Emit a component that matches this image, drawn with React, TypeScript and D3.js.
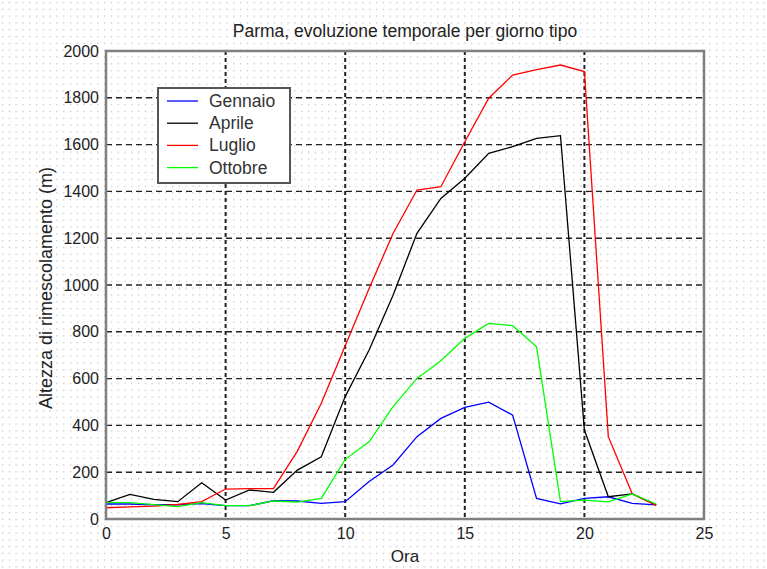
import React, { useEffect, useRef } from "react";
import * as d3 from "d3";

// hours of the typical day
const hours = [0, 1, 2, 3, 4, 5, 6, 7, 8, 9, 10, 11, 12, 13, 14, 15, 16, 17, 18, 19, 20, 21, 22, 23];

// mixing height (m)
const gennaio = [64, 64, 61, 61, 66, 57, 57, 78, 77, 67, 74, 160, 231, 352, 430, 477, 499, 444, 88, 65, 88, 95, 67, 60];
const aprile = [70, 105, 84, 74, 155, 81, 124, 114, 209, 266, 523, 722, 956, 1221, 1370, 1456, 1563, 1591, 1627, 1638, 380, 95, 107, 60];
const luglio = [48, 52, 55, 62, 74, 128, 130, 130, 290, 495, 740, 985, 1220, 1406, 1420, 1612, 1798, 1897, 1920, 1940, 1912, 352, 108, 58];
const ottobre = [71, 70, 61, 53, 70, 57, 57, 77, 72, 88, 255, 330, 480, 601, 676, 772, 836, 826, 736, 74, 81, 73, 107, 64];

const seriesNames = ["Gennaio", "Aprile", "Luglio", "Ottobre"];
const seriesColors = ["#0000ff", "#000000", "#ff0000", "#00ff00"];

const xTicks = [0, 5, 10, 15, 20, 25];
const yTicks = [0, 200, 400, 600, 800, 1000, 1200, 1400, 1600, 1800, 2000];

const font = "'Liberation Sans', Arial, sans-serif";

export default function App() {
  const ref = useRef<SVGSVGElement>(null);

  useEffect(() => {
    document.body.style.margin = "0";
    const width = 767;
    const height = 569;
    const left = 106, right = 704, top = 51, bottom = 519;

    const svg = d3.select(ref.current);
    svg.selectAll("*").remove();

    // dotted page background
    const defs = svg.append("defs");
    const pat = defs.append("pattern")
      .attr("id", "dots")
      .attr("patternUnits", "userSpaceOnUse")
      .attr("width", 6.8)
      .attr("height", 6.8);
    pat.append("rect").attr("x", 2).attr("y", 2).attr("width", 1.2).attr("height", 1.2).attr("fill", "#b8b8b8");

    svg.append("rect").attr("width", width).attr("height", height).attr("fill", "#fff");
    svg.append("rect").attr("width", width).attr("height", height).attr("fill", "url(#dots)");

    const x = d3.scaleLinear().domain([0, 25]).range([left, right]);
    const y = d3.scaleLinear().domain([0, 2000]).range([bottom, top]);

    /* grid */
    const grid = svg.append("g");
    grid.selectAll("line.h")
      .data(yTicks.slice(1, -1))
      .enter().append("line")
      .attr("x1", left).attr("x2", right)
      .attr("y1", d => y(d)).attr("y2", d => y(d))
      .attr("stroke", "#222").attr("stroke-width", 1.4)
      .attr("stroke-dasharray", "6,4");
    grid.selectAll("line.v")
      .data(xTicks.slice(1, -1))
      .enter().append("line")
      .attr("x1", d => x(d)).attr("x2", d => x(d))
      .attr("y1", top).attr("y2", bottom)
      .attr("stroke", "#222").attr("stroke-width", 2)
      .attr("stroke-dasharray", "4,3");

    /* lines */
    const allSeries = [gennaio, aprile, luglio, ottobre];
    const line = d3.line<number>()
      .x((d, i) => x(hours[i]))
      .y(d => y(d));

    svg.append("g")
      .selectAll("path")
      .data(allSeries)
      .enter().append("path")
      .attr("d", d => line(d))
      .attr("fill", "none")
      .attr("stroke", (d, i) => seriesColors[i])
      .attr("stroke-width", 1.3);

    /* frame */
    svg.append("rect")
      .attr("x", left).attr("y", top)
      .attr("width", right - left).attr("height", bottom - top)
      .attr("fill", "none")
      .attr("stroke", "#808080")
      .attr("stroke-width", 2.5);

    /* axes */
    const xAxis = svg.append("g")
      .attr("transform", `translate(0, ${bottom})`)
      .call(d3.axisBottom(x).tickValues(xTicks).tickFormat(d3.format("d")).tickSize(0).tickPadding(9));
    const yAxis = svg.append("g")
      .attr("transform", `translate(${left}, 0)`)
      .call(d3.axisLeft(y).tickValues(yTicks).tickFormat(d3.format("d")).tickSize(0).tickPadding(7));
    [xAxis, yAxis].forEach(a => {
      a.select(".domain").remove();
      a.selectAll("text")
        .attr("font-family", font)
        .attr("font-size", 16)
        .attr("fill", "#222");
    });

    /* title and labels */
    svg.append("text")
      .attr("x", (left + right) / 2).attr("y", 37)
      .attr("text-anchor", "middle")
      .attr("font-family", font).attr("font-size", 17.5)
      .attr("fill", "#222")
      .text("Parma, evoluzione temporale per giorno tipo");

    svg.append("text")
      .attr("x", (left + right) / 2).attr("y", 562)
      .attr("text-anchor", "middle")
      .attr("font-family", font).attr("font-size", 17)
      .attr("fill", "#222")
      .text("Ora");

    svg.append("text")
      .attr("transform", `translate(52, ${(top + bottom) / 2 + 3}) rotate(-90)`)
      .attr("text-anchor", "middle")
      .attr("font-family", font).attr("font-size", 18)
      .attr("fill", "#222")
      .text("Altezza di rimescolamento (m)");

    /* legend */
    const legend = svg.append("g").attr("transform", "translate(158, 88)");
    legend.append("rect")
      .attr("width", 132).attr("height", 95)
      .attr("fill", "#fff")
      .attr("stroke", "#555").attr("stroke-width", 2);
    seriesNames.forEach((name, i) => {
      const ly = 13 + i * 22.2;
      legend.append("line")
        .attr("x1", 9).attr("x2", 40)
        .attr("y1", ly).attr("y2", ly)
        .attr("stroke", seriesColors[i]).attr("stroke-width", 1.3);
      legend.append("text")
        .attr("x", 51).attr("y", ly + 6)
        .attr("font-family", font).attr("font-size", 17.5)
        .attr("fill", "#333")
        .text(name);
    });
  }, []);

  return <svg ref={ref} width={767} height={569} style={{ display: "block" }}></svg>;
}
